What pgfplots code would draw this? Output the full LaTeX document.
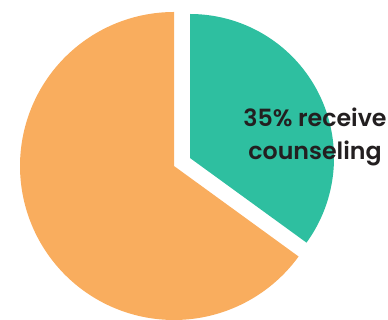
\documentclass[border=0pt]{standalone}
\usepackage{pgfplots}
\pgfplotsset{compat=1.18}
\usepackage{fontspec}
\setmainfont{Poppins SemiBold}
\definecolor{tealc}{HTML}{2EBFA0}
\definecolor{orangec}{HTML}{F9AD5E}
\definecolor{txt}{HTML}{231F20}
% shares (percent)
\def\teal{35}
\def\rest{65}
\begin{document}
\begin{tikzpicture}
\pgfmathsetmacro{\tstart}{90-3.6*\teal}
\pgfmathsetmacro{\oend}{90+3.6*\rest}
\begin{axis}[
  x=1pt, y=1pt,
  xmin=0, xmax=388, ymin=0, ymax=320,
  hide axis, clip=false,
]
\addplot[fill=orangec, draw=none, domain=90:\oend, samples=200]
  ({174+154*cos(x)},{154+154*sin(x)}) -- (axis cs:174,154) -- cycle;
\addplot[fill=tealc, draw=none, domain=\tstart:90, samples=120]
  ({190+144*cos(x)},{162+144*sin(x)}) -- (axis cs:190,162) -- cycle;
\node[text=txt, font=\fontsize{23.7}{33}\selectfont, align=center, anchor=base]
  at (axis cs:315,193) {35\% receive};
\node[text=txt, font=\fontsize{23.7}{33}\selectfont, align=center, anchor=base]
  at (axis cs:315,160) {counseling};
\end{axis}
\pgfresetboundingbox
\path (0,0) rectangle (388pt,320pt);
\end{tikzpicture}
\end{document}
